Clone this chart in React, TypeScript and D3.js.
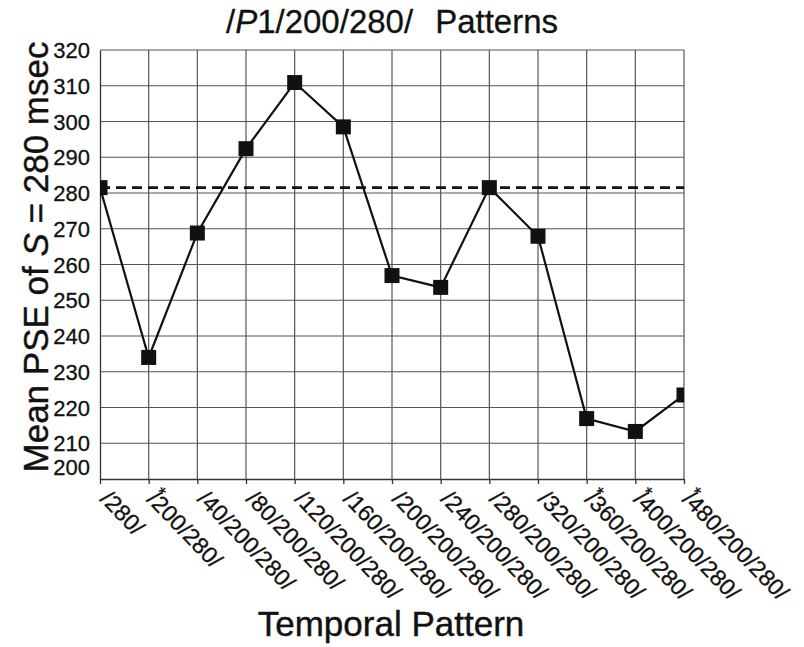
import React, { useEffect, useRef } from "react";
import * as d3 from "d3";

const patterns = [
  "/280/",
  "*/200/280/",
  "/40/200/280/",
  "/80/200/280/",
  "/120/200/280/",
  "/160/200/280/",
  "/200/200/280/",
  "/240/200/280/",
  "/280/200/280/",
  "/320/200/280/",
  "*/360/200/280/",
  "*/400/200/280/",
  "*/480/200/280/",
];
const meanPSE = [281.5, 234, 268.8, 292.4, 310.9, 298.5, 256.9, 253.6, 281.5, 267.9, 216.9, 213.3, 223.5];
const standardLine = 281.5;
const yTicks = [200, 210, 220, 230, 240, 250, 260, 270, 280, 290, 300, 310, 320];

const W = 804;
const H = 647;
const FONT = "'Liberation Sans', Arial, Helvetica, sans-serif";

export default function App() {
  const ref = useRef<SVGSVGElement>(null);

  useEffect(() => {
    const svg = d3.select(ref.current);
    svg.selectAll("*").remove();

    const left = 100, right = 684, top = 50, bottom = 479;
    const x = d3.scalePoint<string>().domain(patterns).range([left, right]);
    const y = d3.scaleLinear().domain([200, 320]).range([bottom, top]);

    // grid
    const grid = svg.append("g");
    grid.selectAll("line.h")
      .data(yTicks.slice(1))
      .join("line")
      .attr("x1", left).attr("x2", right)
      .attr("y1", (d) => y(d)).attr("y2", (d) => y(d))
      .attr("stroke", "#555").attr("stroke-width", 1.2);
    grid.selectAll("line.v")
      .data(patterns.slice(1))
      .join("line")
      .attr("x1", (d) => x(d)!).attr("x2", (d) => x(d)!)
      .attr("y1", top).attr("y2", bottom)
      .attr("stroke", "#555").attr("stroke-width", 1.2);

    // axes
    const yAxis = svg.append("g")
      .attr("transform", `translate(${left},0)`)
      .call(d3.axisLeft(y).tickValues(yTicks).tickSize(0).tickPadding(10));
    yAxis.select(".domain").attr("stroke", "#333").attr("stroke-width", 1.3);
    yAxis.selectAll("text")
      .attr("font-family", FONT).attr("font-size", 22).attr("fill", "#111")
      .attr("stroke", "#111").attr("stroke-width", 0.3)
      .attr("dy", (d: any) => (d === 200 ? "-0.2em" : "0.35em"));

    const xAxis = svg.append("g")
      .attr("transform", `translate(0,${bottom})`)
      .call(d3.axisBottom(x).tickSize(5).tickSizeOuter(0).tickFormat(() => ""));
    xAxis.select(".domain").attr("stroke", "#333").attr("stroke-width", 1.3);
    xAxis.selectAll("line").attr("stroke", "#333").attr("stroke-width", 1.3);

    // rotated category labels
    const lab = svg.append("g").selectAll("text")
      .data(patterns)
      .join("text")
      .attr("transform", (d) => `translate(${x(d)! - 1},${bottom + 21}) rotate(46)`)
      .attr("font-family", FONT).attr("font-size", 23).attr("fill", "#111")
      .attr("stroke", "#111").attr("stroke-width", 0.3);
    lab.each(function (d) {
      const t = d3.select(this);
      if (d.startsWith("*")) {
        t.append("tspan").attr("dx", "-0.05em").attr("dy", "-0.4em").attr("font-size", 19).text("*");
        t.append("tspan").attr("dx", "-0.35em").attr("dy", "0.4em").text(d.slice(1));
      } else {
        t.text(d);
      }
    });

    // plot contents clipped to the plot area
    svg.append("clipPath").attr("id", "plotClip")
      .append("rect").attr("x", left).attr("y", top).attr("width", right - left).attr("height", bottom - top);
    const plot = svg.append("g").attr("clip-path", "url(#plotClip)");

    plot.append("line")
      .attr("x1", left).attr("x2", right)
      .attr("y1", y(standardLine)).attr("y2", y(standardLine))
      .attr("stroke", "#111").attr("stroke-width", 2.6).attr("stroke-dasharray", "10,6");

    const line = d3.line<number>()
      .x((_, i) => x(patterns[i])!)
      .y((d) => y(d));
    plot.append("path")
      .attr("d", line(meanPSE)!)
      .attr("fill", "none").attr("stroke", "#111").attr("stroke-width", 2.2);

    const s = 15;
    plot.selectAll("rect.m")
      .data(meanPSE)
      .join("rect")
      .attr("x", (_, i) => x(patterns[i])! - s / 2)
      .attr("y", (d) => y(d) - s / 2)
      .attr("width", s).attr("height", s)
      .attr("fill", "#111");

    // title
    const title = svg.append("text")
      .attr("x", 392).attr("y", 33)
      .attr("text-anchor", "middle")
      .attr("font-family", FONT).attr("font-size", 33).attr("fill", "#111")
      .attr("stroke", "#111").attr("stroke-width", 0.3);
    title.append("tspan").text("/");
    title.append("tspan").attr("font-style", "italic").text("P");
    title.append("tspan").text("1/200/280/");
    title.append("tspan").attr("dx", 22).text("Patterns");

    // y title
    const yt = svg.append("text")
      .attr("transform", `translate(48,257) rotate(-90)`)
      .attr("text-anchor", "middle")
      .attr("font-family", FONT).attr("font-size", 35).attr("fill", "#111")
      .attr("stroke", "#111").attr("stroke-width", 0.4);
    yt.append("tspan").text("Mean PSE of ");
    yt.append("tspan").attr("font-style", "italic").text("S");
    yt.append("tspan").text(" = 280 msec");

    // x title
    svg.append("text")
      .attr("x", 391).attr("y", 636)
      .attr("text-anchor", "middle")
      .attr("font-family", FONT).attr("font-size", 35).attr("fill", "#111")
      .attr("stroke", "#111").attr("stroke-width", 0.4)
      .text("Temporal Pattern");
  }, []);

  return (
    <svg
      ref={ref}
      width={W}
      height={H}
      style={{ position: "absolute", left: 0, top: 0, background: "#fff" }}
    />
  );
}
